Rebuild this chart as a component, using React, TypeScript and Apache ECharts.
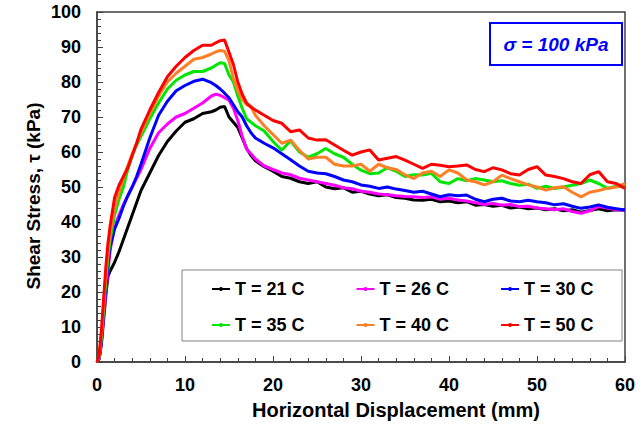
import React, { useEffect, useRef } from "react";
import * as echarts from "echarts";

// Horizontal displacement (mm), shared by all curves
const displacement = [
  0, 0.25, 0.5, 0.75, 1, 1.25, 1.5, 2, 2.5, 3, 3.5, 4, 4.5, 5,
  6, 7, 8, 9, 10, 11, 12, 13,
  13.5, 14, 14.5, 15, 15.5, 16, 16.5, 17, 17.5, 18,
  19, 20, 21, 22, 23, 24, 25, 26, 27, 28, 29, 30, 31, 32, 33, 34, 35, 36, 37, 38, 39, 40,
  41, 42, 43, 44, 45, 46, 47, 48, 49, 50, 51, 52, 53, 54, 55, 56, 57, 58, 59, 60,
];

const seriesNames = ["T = 21 C", "T = 26 C", "T = 30 C", "T = 35 C", "T = 40 C", "T = 50 C"];
const seriesColors = ["#000000", "#ff00ff", "#0000ff", "#00e600", "#ff7f27", "#ff0000"];

// Shear stress (kPa)
const stressT21 = [
  0, 1, 5, 12, 19, 24.5, 26, 28.5, 31.5, 35, 38.5, 42, 45.5, 49,
  54, 59, 63, 66, 68.5, 69.5, 71, 71.5,
  72, 72.8, 73, 70, 68.5, 67, 64, 61, 59, 57.5,
  55.8, 54.5, 53, 52.5, 51.5, 51, 51.5, 50, 49.5, 49.8, 48.5, 48.8, 48, 47.5, 47.8, 47, 46.8, 46.3, 46.2, 46.5, 45.8, 46,
  45.5, 45.8, 44.8, 45, 44.5, 44.8, 44, 44.3, 43.8, 44, 43.5, 43.8, 43.2, 43.5, 42.8, 43.3, 43.8, 43.2, 43.5, 43.4,
];
const stressT26 = [
  0, 1, 6, 13, 20, 26, 32, 38.5, 42, 45, 47.5, 50, 52.5, 55,
  61, 65.5, 68, 70, 71, 72.5, 74, 76,
  76.5, 76.2, 75.5, 74.8, 72.5, 69, 64.5, 60.8, 59.5, 58,
  56, 55, 54, 53.5, 52.5, 52, 51.5, 51, 50.5, 49.8, 49.5, 48.8, 48.5, 48, 47.8, 47.5, 47.3, 47.2, 47, 47.2, 46.5, 46.8,
  46.3, 46, 45.5, 45, 45.3, 44.8, 45, 44.4, 44.5, 44, 43.8, 43.5, 43.8, 43, 42.5, 43.2, 44.4, 44, 43.5, 43.4,
];
const stressT30 = [
  0, 1, 6, 14, 21, 28, 33, 38, 41, 44.5, 47.5, 50, 53, 56.5,
  64, 70.5, 74.5, 77.5, 79, 80.2, 80.8, 79.8,
  79, 78, 76.8, 75.5, 73.5, 71.5, 70, 67.5, 65.5, 64,
  62.5, 61.2, 59.5, 57.8, 56, 54.5, 54, 53.8, 53, 52, 51.5, 50.6, 50.2, 49.6, 50, 49.4, 49, 48.5, 48.8, 48, 47.2, 47.8,
  47.5, 47.7, 46.5, 45.8, 46.5, 46.8, 46, 45.8, 46.2, 45.8, 45.5, 44.9, 45.2, 44.5, 43.9, 44.3, 44.9, 44.2, 43.8, 43.4,
];
const stressT35 = [
  0, 1.5, 7, 15, 23, 30, 35, 42, 46.5, 50, 55, 59, 62, 64.5,
  69.5, 74, 78, 80.5, 82, 83, 83, 84,
  84.8, 85.5, 85.3, 82, 80, 76, 72.5, 69.5, 68.5, 67.5,
  66, 63, 60.5, 63.2, 60, 58.5, 59.5, 61, 59.5, 58.5, 56.5, 54.8, 53.8, 54, 55.5, 54.5, 53, 53.5, 53.4, 53.9, 51.5, 51,
  52.4, 51.8, 52.4, 52, 51.5, 51.8, 51, 50.5, 50.8, 49.6, 50.2, 49.6, 50, 50.5, 51, 52, 51, 49.6, 50.2, 50,
];
const stressT40 = [
  0, 1.5, 8, 16, 25, 32, 37, 44, 48.5, 52.5, 56, 59.5, 62.5, 65.5,
  71, 76, 80, 82.5, 84.5, 86.5, 87, 88,
  88.6, 89, 88.8, 86, 81, 77.5, 75, 73.5, 73, 70.5,
  67.5, 65, 62.5, 63.4, 60.5, 58, 58.5, 58.5, 56.5, 56, 56, 56.5, 54.5, 56.5, 55.5, 55, 53.5, 52.4, 54, 54.5, 53, 54.9,
  54, 52, 51.5, 50.6, 51.5, 53.4, 52.4, 51.5, 50.6, 50, 49.1, 49.8, 50.1, 48.5, 47.2, 48.5, 49, 49.6, 50, 51,
];
const stressT50 = [
  0, 2, 9, 18, 27, 34, 39, 47, 50.5, 53, 55.5, 59, 62.5, 66.5,
  72, 77, 81.5, 84.5, 87, 89, 90.5, 90.5,
  91.2, 91.8, 92, 88.5, 85, 80, 76.5, 74, 72.8, 72,
  70.5, 69, 68.2, 65.8, 66.3, 64, 63.4, 63.5, 62, 60.5, 59.1, 60, 60.6, 57.7, 58.2, 58.7, 57.7, 56.5, 55.3, 56.5, 56.2, 55.8,
  56, 56.3, 55, 54.4, 55.5, 54.9, 53.8, 53.4, 55, 55.8, 53.4, 53, 52.4, 51.5, 51, 53.5, 54.4, 51.5, 51, 49.6,
];

const allStress = [stressT21, stressT26, stressT30, stressT35, stressT40, stressT50];

const FONT = "'Liberation Sans', Arial, Helvetica, sans-serif";

export default function App() {
  const ref = useRef<HTMLDivElement>(null);

  useEffect(() => {
    if (!ref.current) return;
    const chart = echarts.init(ref.current, null, { renderer: "svg" });

    const legendText = { fontSize: 18, fontWeight: "bold" as const, color: "#000", fontFamily: FONT };

    chart.setOption({
      animation: false,
      backgroundColor: "#ffffff",
      grid: {
        left: 97,
        right: 18,
        top: 12,
        bottom: 63,
        show: true,
        borderColor: "#404040",
        borderWidth: 1.5,
      },
      xAxis: {
        type: "value",
        min: 0,
        max: 60,
        interval: 10,
        axisLine: { show: true, lineStyle: { color: "#404040", width: 1.5 } },
        axisTick: { show: true, inside: true, length: 6, lineStyle: { color: "#404040" } },
        minorTick: { show: true, splitNumber: 5, length: 4, lineStyle: { color: "#404040" } },
        splitLine: { show: false },
        axisLabel: { margin: 14, fontSize: 18, fontWeight: "bold", color: "#000", fontFamily: FONT },
      },
      yAxis: {
        type: "value",
        min: 0,
        max: 100,
        interval: 10,
        axisLine: { show: true, lineStyle: { color: "#404040", width: 1.5 } },
        axisTick: { show: true, inside: true, length: 6, lineStyle: { color: "#404040" } },
        minorTick: { show: true, splitNumber: 5, length: 4, lineStyle: { color: "#404040" } },
        splitLine: { show: false },
        axisLabel: { margin: 16, fontSize: 18, fontWeight: "bold", color: "#000", fontFamily: FONT },
      },
      legend: [
        {
          data: seriesNames.slice(0, 3),
          left: 206,
          top: 275,
          itemGap: 51,
          itemWidth: 18,
          itemHeight: 5,
          textStyle: legendText,
        },
        {
          data: seriesNames.slice(3),
          left: 206,
          top: 311,
          itemGap: 51,
          itemWidth: 18,
          itemHeight: 5,
          textStyle: legendText,
        },
      ],
      graphic: [
        {
          type: "rect",
          shape: { x: 182, y: 270, width: 440, height: 71 },
          style: { fill: "#ffffff", stroke: "#808080", lineWidth: 1 },
        },
        {
          type: "rect",
          shape: { x: 490, y: 23, width: 132, height: 42 },
          style: { fill: "#ffffff", stroke: "#0000ff", lineWidth: 2 },
        },
        {
          type: "text",
          x: 556,
          y: 44,
          style: {
            text: "σ = 100 kPa",
            fill: "#0000ff",
            font: `italic bold 19px ${FONT}`,
            textAlign: "center",
            textVerticalAlign: "middle",
          },
        },
        {
          type: "text",
          x: 396,
          y: 410,
          style: {
            text: "Horizontal Displacement (mm)",
            fill: "#000",
            font: `bold 20px ${FONT}`,
            textAlign: "center",
            textVerticalAlign: "middle",
          },
        },
        {
          type: "text",
          x: 33,
          y: 196,
          rotation: Math.PI / 2,
          style: {
            text: "Shear Stress, τ (kPa)",
            fill: "#000",
            font: `bold 19px ${FONT}`,
            textAlign: "center",
            textVerticalAlign: "middle",
          },
        },
      ],
      series: allStress.map((ys, k) => ({
        name: seriesNames[k],
        type: "line",
        data: displacement.map((x, i) => [x, ys[i]]),
        showSymbol: false,
        symbol: "circle",
        symbolSize: 4,
        color: seriesColors[k],
        lineStyle: { width: 3, color: seriesColors[k] },
        z: 2 + k,
      })),
    });

    return () => chart.dispose();
  }, []);

  return (
    <div
      ref={ref}
      style={{ position: "fixed", left: 0, top: 0, width: 643, height: 425 }}
    />
  );
}
